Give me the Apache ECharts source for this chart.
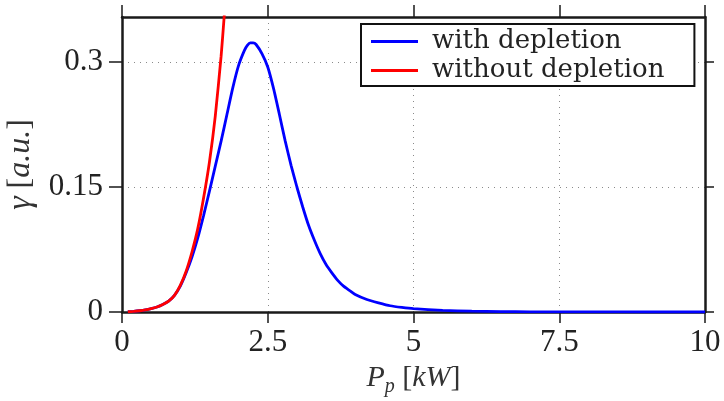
<!DOCTYPE html>
<html><head><meta charset="utf-8">
<script src="https://cdn.jsdelivr.net/npm/echarts@6/dist/echarts.min.js"></script>
<style>html,body{margin:0;padding:0;background:#fff}#c{width:724px;height:401px}</style>
</head><body><div id="c"></div>
<script>
// ---- data ----
const seriesNames = ['with depletion', 'without depletion'];
const xTicks = [0, 2.5, 5, 7.5, 10];
const yTicks = [0, 0.15, 0.3];

const xWith = [0.1, 0.2, 0.3, 0.4, 0.5, 0.6, 0.7, 0.8, 0.9, 1.0, 1.1, 1.2, 1.3, 1.4, 1.5, 1.6, 1.7, 1.8, 1.9, 2.0, 2.1, 2.15, 2.2, 2.25, 2.3, 2.4, 2.5, 2.6, 2.7, 2.8, 2.9, 3.0, 3.1, 3.2, 3.3, 3.4, 3.5, 3.6, 3.7, 3.8, 3.9, 4.0, 4.2, 4.4, 4.6, 4.8, 5.0, 5.5, 6.0, 6.5, 7.0, 8.0, 9.0, 10.0];
const yWith = [0.0003, 0.0008, 0.0015, 0.0025, 0.004, 0.006, 0.009, 0.013, 0.02, 0.031, 0.047, 0.066, 0.089, 0.116, 0.145, 0.175, 0.205, 0.237, 0.269, 0.296, 0.314, 0.32, 0.323, 0.323, 0.321, 0.31, 0.294, 0.268, 0.237, 0.205, 0.176, 0.15, 0.126, 0.104, 0.086, 0.07, 0.057, 0.047, 0.038, 0.031, 0.026, 0.021, 0.015, 0.011, 0.0075, 0.0055, 0.004, 0.002, 0.001, 0.0005, 0.0002, 0.0001, 0, 0];

const xWithout = [0.1, 0.2, 0.3, 0.4, 0.5, 0.6, 0.7, 0.8, 0.9, 1.0, 1.1, 1.2, 1.3, 1.4, 1.5, 1.6, 1.7, 1.75, 1.8];
const yWithout = [0.0003, 0.0008, 0.0015, 0.0025, 0.004, 0.006, 0.009, 0.013, 0.02, 0.032, 0.049, 0.072, 0.1, 0.137, 0.18, 0.235, 0.307, 0.352, 0.4];

const yMax = 0.354;

// ---- chart ----
const pairs = (xs, ys) => xs.map((x, i) => [x, ys[i]]);
const serif = "'Liberation Serif', 'Times New Roman', serif";
const legendFont = "'DejaVu Serif', serif";
const axisColor = '#1a1a1a';
const gridDots = {show: true, lineStyle: {color: '#8a8a8a', type: [1, 5], width: 1}};

const chart = echarts.init(document.getElementById('c'), null, {renderer: 'canvas'});
chart.setOption({
  animation: false,
  backgroundColor: '#fff',
  grid: {left: 122, right: 19, top: 17, bottom: 89, containLabel: false, outerBoundsMode: 'none'},
  legend: {
    left: 361, top: 24, orient: 'vertical',
    data: seriesNames,
    icon: 'rect', itemWidth: 47, itemHeight: 3, itemGap: 2,
    padding: [4, 30, 2, 10],
    borderColor: '#111', borderWidth: 2, borderRadius: 0,
    backgroundColor: '#fff',
    textStyle: {fontFamily: legendFont, fontSize: 26, color: '#222', lineHeight: 27, padding: [0, 0, 0, 9]}
  },
  xAxis: [{
    type: 'value', position: 'bottom', min: 0, max: 10, interval: 2.5,
    axisLine: {show: true, onZero: false, lineStyle: {color: axisColor, width: 2.5}},
    axisTick: {show: true, inside: false, length: 11, lineStyle: {color: axisColor, width: 1.5}},
    axisLabel: {show: true, margin: 15, fontFamily: serif, fontSize: 31, color: '#222',
      customValues: xTicks, formatter: v => String(v)},
    splitLine: gridDots,
    name: '{i|P}{s|p}{n| [}{i|kW}{n|]}',
    nameLocation: 'middle', nameGap: 44,
    nameTextStyle: {
      fontFamily: serif, fontSize: 30, color: '#333',
      rich: {
        i: {fontFamily: serif, fontSize: 30, fontStyle: 'italic', color: '#333', lineHeight: 30, verticalAlign: 'top'},
        n: {fontFamily: serif, fontSize: 30, color: '#333', lineHeight: 30, verticalAlign: 'top'},
        s: {fontFamily: serif, fontSize: 20, fontStyle: 'italic', color: '#333', lineHeight: 48}
      }
    }
  }, {
    type: 'value', position: 'top', min: 0, max: 10, interval: 2.5,
    axisLine: {show: true, onZero: false, lineStyle: {color: axisColor, width: 2.5}},
    axisTick: {show: true, inside: false, length: 12, lineStyle: {color: axisColor, width: 1.5}},
    axisLabel: {show: false},
    splitLine: {show: false}
  }],
  yAxis: [{
    type: 'value', position: 'left', min: 0, max: yMax,
    axisLine: {show: true, onZero: false, lineStyle: {color: axisColor, width: 2.5}},
    axisTick: {show: true, inside: false, length: 13, customValues: yTicks, lineStyle: {color: axisColor, width: 1.5}},
    axisLabel: {show: true, margin: 19, fontFamily: serif, fontSize: 31, color: '#222',
      customValues: yTicks, formatter: v => String(v)},
    splitLine: gridDots,
    name: '{g|γ} {n|[}{i|a.u.}{n|]}',
    nameLocation: 'middle', nameGap: 78,
    nameTextStyle: {
      fontFamily: serif, fontSize: 32, color: '#333',
      rich: {
        g: {fontFamily: serif, fontSize: 34, fontStyle: 'italic', color: '#333'},
        i: {fontFamily: serif, fontSize: 32, fontStyle: 'italic', color: '#333'},
        n: {fontFamily: serif, fontSize: 32, color: '#333'}
      }
    }
  }, {
    type: 'value', position: 'right', min: 0, max: yMax,
    axisLine: {show: true, onZero: false, lineStyle: {color: axisColor, width: 2.5}},
    axisTick: {show: true, inside: false, length: 9, customValues: yTicks, lineStyle: {color: axisColor, width: 1.5}},
    axisLabel: {show: false},
    splitLine: {show: false}
  }],
  series: [{
    name: seriesNames[0], type: 'line', xAxisIndex: 0, yAxisIndex: 0,
    data: pairs(xWith, yWith), smooth: 0.2, showSymbol: false, symbol: 'none', clip: true,
    lineStyle: {color: '#0000ff', width: 2.8}, itemStyle: {color: '#0000ff'}
  }, {
    name: seriesNames[1], type: 'line', xAxisIndex: 0, yAxisIndex: 0,
    data: pairs(xWithout, yWithout), smooth: 0.2, showSymbol: false, symbol: 'none', clip: true,
    lineStyle: {color: '#ff0000', width: 2.8}, itemStyle: {color: '#ff0000'}
  }]
});
</script>
</body></html>
